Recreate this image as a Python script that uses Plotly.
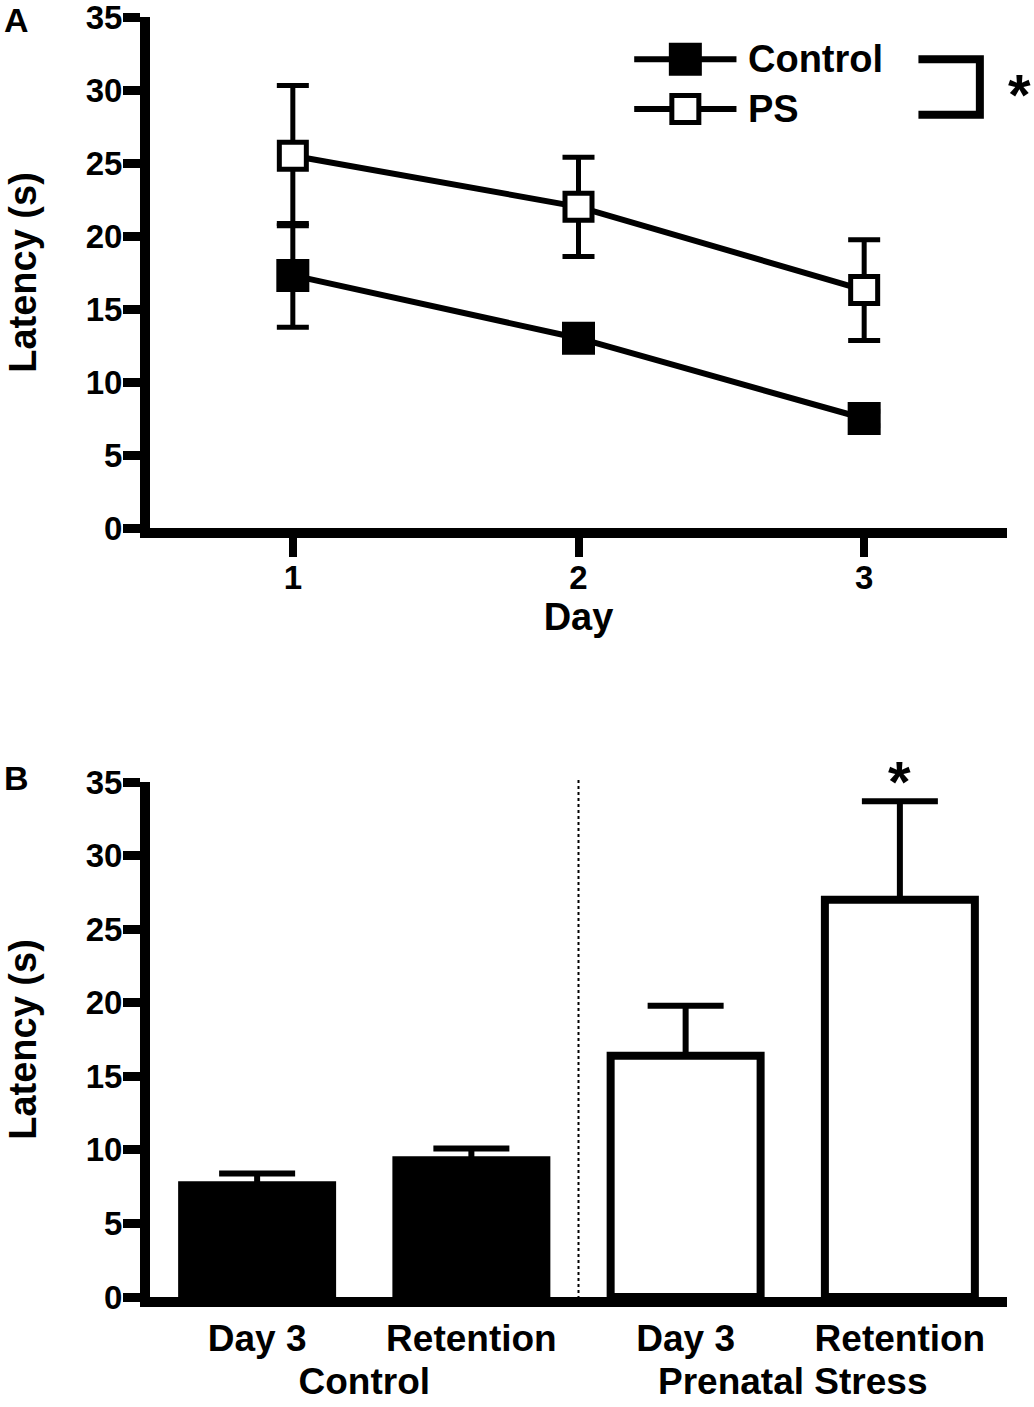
import plotly.graph_objects as go

# ---- data: panel A (latency over training days) ----
days = [1, 2, 3]
control_mean = [17.3, 13.0, 7.5]
control_sem = [3.55, 0.9, 0.5]
ps_mean = [25.5, 22.0, 16.3]
ps_sem = [4.8, 3.4, 3.45]

# ---- data: panel B (day 3 vs retention) ----
groups = ["Control", "Control", "Prenatal Stress", "Prenatal Stress"]
sessions = ["Day 3", "Retention", "Day 3", "Retention"]
bar_mean = [7.6, 9.3, 16.4, 27.0]
bar_sem = [0.8, 0.8, 3.4, 6.7]
bar_fill = ["black", "black", "white", "white"]

# figure fills the whole 1034x1407 page (body margin removed below)
W, H = 1034, 1407
FONT = "Liberation Sans, Arial, sans-serif"


def px(x):  # page pixel -> paper x
    return x / W


def py(y):  # page pixel -> paper y
    return (H - y) / H


xdom = [px(150), px(1007)]
ydomA = [py(528), py(17)]
ydomB = [py(1297), py(782)]

fig = go.Figure()

# panel A lines
fig.add_trace(go.Scatter(
    x=days, y=control_mean, name="Control", mode="lines+markers",
    line=dict(color="black", width=6),
    marker=dict(symbol="square", size=30, color="black", line=dict(color="black", width=3)),
    error_y=dict(type="data", array=control_sem, color="black", thickness=5, width=16),
    xaxis="x", yaxis="y", showlegend=False, cliponaxis=False))
fig.add_trace(go.Scatter(
    x=days, y=ps_mean, name="PS", mode="lines+markers",
    line=dict(color="black", width=6),
    marker=dict(symbol="square", size=27, color="white", line=dict(color="black", width=5)),
    error_y=dict(type="data", array=ps_sem, color="black", thickness=5, width=16),
    xaxis="x", yaxis="y", showlegend=False, cliponaxis=False))

# hand-made legend (large keys like the original)
leg_x = [2.195, 2.374, 2.553]
leg_y = {"Control": 32.1, "PS": 28.7}
for tr in list(fig.data):
    yy = leg_y[tr.name]
    fig.add_trace(go.Scatter(
        x=leg_x, y=[yy] * 3, mode="lines", line=dict(color="black", width=6),
        xaxis="x", yaxis="y", showlegend=False, cliponaxis=False, hoverinfo="skip"))
    fig.add_trace(go.Scatter(
        x=[leg_x[1]], y=[yy], mode="markers", marker=tr.marker,
        xaxis="x", yaxis="y", showlegend=False, cliponaxis=False, hoverinfo="skip"))
    fig.add_annotation(x=2.585, y=yy, xref="x", yref="y", text=tr.name, showarrow=False,
                       xanchor="left", yanchor="middle",
                       font=dict(family=FONT, size=38, color="black", weight="bold"))

# significance bracket and star for panel A
fig.add_shape(type="path", xref="x", yref="y",
              path="M 3.19 32.1 L 3.405 32.1 L 3.405 28.3 L 3.19 28.3",
              line=dict(color="black", width=8))
fig.add_annotation(x=px(1033), y=py(60), xref="paper", yref="paper", text="*",
                   showarrow=False, xanchor="right",
                   font=dict(family=FONT, size=58, color="black", weight="bold"))

# panel B bars
fig.add_trace(go.Bar(
    x=[groups, sessions], y=bar_mean, width=0.7,
    marker=dict(color=bar_fill, line=dict(color="black", width=8)),
    error_y=dict(type="data", array=bar_sem, arrayminus=[0] * 4, symmetric=False,
                 color="black", thickness=6, width=38),
    xaxis="x2", yaxis="y2", showlegend=False))

# dotted separator between the groups
sep = xdom[0] + (1.5 + 0.5) / 4 * (xdom[1] - xdom[0])
fig.add_shape(type="line", xref="paper", yref="paper", x0=sep, x1=sep,
              y0=py(1305), y1=py(780),
              line=dict(color="black", width=2, dash="dot"))
fig.add_annotation(x=3, y=bar_mean[3] + bar_sem[3], xref="x2", yref="y2", text="*",
                   showarrow=False, yanchor="bottom", yshift=-15,
                   font=dict(family=FONT, size=58, color="black", weight="bold"))

# panel letters
for letter, yp in [("A", 20), ("B", 778)]:
    fig.add_annotation(x=px(2), y=py(yp), xref="paper", yref="paper", text=letter,
                       showarrow=False, xanchor="left", yanchor="middle",
                       font=dict(family=FONT, size=34, color="black", weight="bold"))

tickfont = dict(family=FONT, size=33, color="black", weight="bold")
titlefont = dict(family=FONT, size=38, color="black", weight="bold")
yax = dict(range=[0, 35], dtick=5, showgrid=False, zeroline=False, showline=True,
           linecolor="black", linewidth=10, ticks="outside", ticklen=17, tickwidth=9,
           tickcolor="black", tickfont=tickfont, ticklabelstandoff=-6, automargin=False,
           ticklabeloverflow="allow",
           title=dict(text="Latency (s)", font=titlefont, standoff=41))

fig.update_layout(
    template="none",
    width=W, height=H, margin=dict(l=0, r=0, t=0, b=0, autoexpand=False),
    paper_bgcolor="white", plot_bgcolor="white",
    xaxis=dict(domain=xdom, anchor="y", range=[0.5, 3.5], tickvals=days, automargin=False,
               showgrid=False, zeroline=False, showline=True, linecolor="black", linewidth=10,
               ticks="outside", ticklen=19, tickwidth=8, tickcolor="black", tickfont=tickfont,
               ticklabelstandoff=-8, ticklabeloverflow="allow",
               title=dict(text="Day", font=titlefont, standoff=4)),
    yaxis=dict(domain=ydomA, anchor="x", **yax),
    xaxis2=dict(domain=xdom, anchor="y2", type="multicategory", range=[-0.5, 3.5],
                automargin=False, showgrid=False, zeroline=False, showline=True,
                linecolor="black", linewidth=10, ticks="", showdividers=False,
                ticklabeloverflow="allow",
                tickfont=dict(family=FONT, size=37, color="black", weight="bold")),
    yaxis2=dict(domain=ydomB, anchor="x2", **yax),
)

fig.write_html("out.html", config={"displayModeBar": False},
               post_script="document.body.style.margin='0';document.body.style.padding='0';")
